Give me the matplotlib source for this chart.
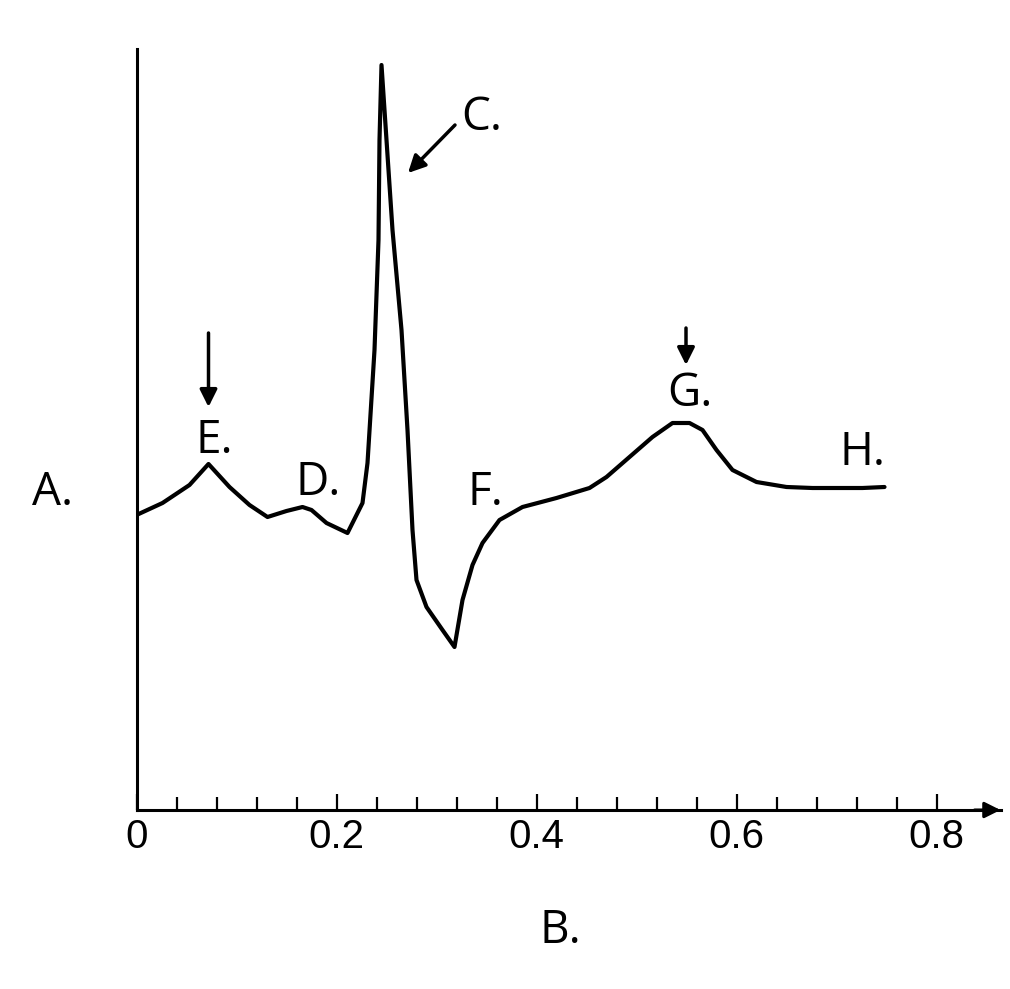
import matplotlib.pyplot as plt

# trace (x in seconds, y in arbitrary units)
t = [0.000, 0.026, 0.053, 0.072, 0.093, 0.113, 0.131, 0.150, 0.166, 0.175,
     0.190, 0.211, 0.226, 0.231, 0.238, 0.242, 0.243, 0.245, 0.250, 0.256,
     0.265, 0.271, 0.276, 0.280, 0.290, 0.306, 0.318, 0.326, 0.336, 0.346,
     0.363, 0.386, 0.420, 0.453, 0.470, 0.493, 0.516, 0.536, 0.553, 0.566,
     0.580, 0.596, 0.620, 0.650, 0.676, 0.726, 0.748]
signal = [2.95, 3.07, 3.25, 3.46, 3.23, 3.05, 2.93, 2.99, 3.03, 3.00,
          2.87, 2.77, 3.07, 3.47, 4.60, 5.70, 6.70, 7.45, 6.70, 5.80,
          4.80, 3.80, 2.80, 2.30, 2.03, 1.80, 1.63, 2.10, 2.45, 2.67,
          2.90, 3.03, 3.12, 3.22, 3.33, 3.53, 3.73, 3.87, 3.87, 3.80,
          3.60, 3.40, 3.28, 3.23, 3.22, 3.22, 3.23]

tick_pos = [0.04 * i for i in range(1, 21)]
tick_labels = ['0', '0.2', '0.4', '0.6', '0.8']
label_vals = [0.0, 0.2, 0.4, 0.6, 0.8]

fig = plt.figure(figsize=(10.10, 9.89), dpi=100)
ax = fig.add_axes([136.5 / 1010, 179 / 989, 864 / 1010, 761 / 989])

ax.plot(t, signal, color='black', lw=3, solid_capstyle='round', solid_joinstyle='round')

ax.set_xlim(0, 0.864)
ax.set_ylim(0, 7.61)

# axes: only left and bottom, arrow at the end of x
for side in ['top', 'right']:
    ax.spines[side].set_visible(False)
for side in ['left', 'bottom']:
    ax.spines[side].set_linewidth(2.2)
ax.annotate('', xy=(1.0, 0), xytext=(0.97, 0), xycoords='axes fraction',
            arrowprops=dict(arrowstyle='-|>', color='black', lw=2.2,
                            mutation_scale=24, shrinkA=0, shrinkB=0))

ax.set_yticks([])
ax.set_xticks(label_vals)
ax.set_xticklabels(tick_labels, fontsize=29, family='Liberation Sans')
ax.set_xticks([p for p in tick_pos if round(p / 0.2, 6) % 1 != 0], minor=True)
ax.tick_params(axis='x', which='major', direction='in', length=11.5, width=1.6, pad=6)
ax.tick_params(axis='x', which='minor', direction='in', length=9.5, width=1.6)

# letters
font = dict(fontsize=33, family='Open Sans', ha='center', va='baseline', clip_on=False)
ax.text(-0.0835, 3.05, 'A.', **font)
ax.text(0.4235, -1.33, 'B.', **font)
ax.text(0.3455, 6.80, 'C.', **font)
ax.text(0.1815, 3.15, 'D.', **font)
ax.text(0.0775, 3.57, 'E.', **font)
ax.text(0.3485, 3.05, 'F.', **font)
ax.text(0.5535, 4.04, 'G.', **font)
ax.text(0.7255, 3.45, 'H.', **font)

arrow = dict(arrowstyle='-|>', color='black', lw=2.5, mutation_scale=26, shrinkA=0, shrinkB=0)
ax.annotate('', xy=(0.072, 4.03), xytext=(0.072, 4.77), arrowprops=arrow)
ax.annotate('', xy=(0.5495, 4.45), xytext=(0.5495, 4.82), arrowprops=arrow)
ax.annotate('', xy=(0.2715, 6.37), xytext=(0.3185, 6.85), arrowprops=arrow)

plt.savefig('out.png', dpi=100, facecolor='white')
